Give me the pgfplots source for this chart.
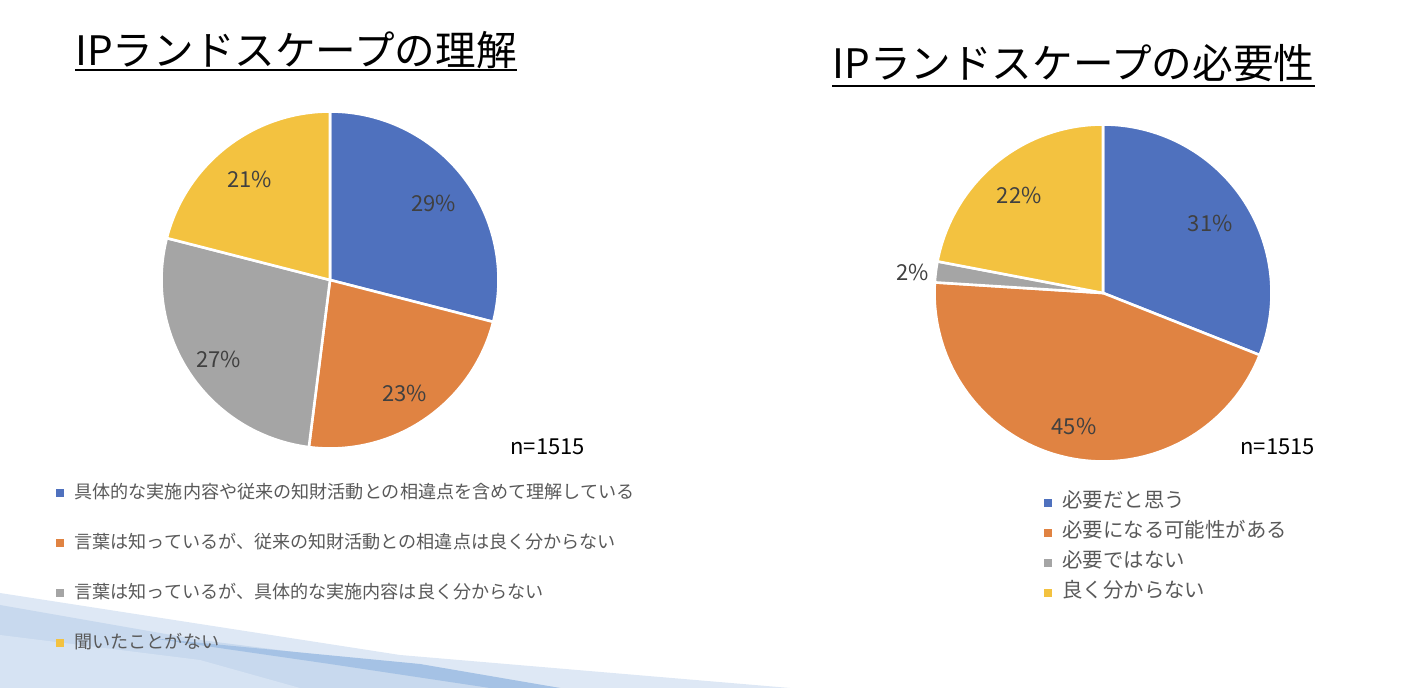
\documentclass[border=0pt]{standalone}
\usepackage{fontspec}
\setmainfont{Noto Sans CJK JP}
\usepackage{pgfplots}
\pgfplotsset{compat=1.18}

\definecolor{pblue}{RGB}{79,113,190}
\definecolor{porange}{RGB}{224,131,66}
\definecolor{pgray}{RGB}{165,165,165}
\definecolor{pyellow}{RGB}{243,194,64}
\definecolor{lbl}{RGB}{64,64,64}
\definecolor{leg}{RGB}{89,89,89}

% one slice: #1 start (percent), #2 value (percent), #3 colour, #4 label radius
\newcommand\pieslice[4]{%
  \pgfmathsetmacro\pa{90-3.6*(#1+#2)}%
  \pgfmathsetmacro\pb{90-3.6*(#1)}%
  \pgfmathsetmacro\pm{90-3.6*(#1+#2/2)}%
  \addplot[forget plot, draw=white, line width=1.3pt, fill=#3,
    domain=\pa:\pb, samples=90, variable=\t]
    ({cos(\t)},{sin(\t)}) -- (axis cs:0,0) -- cycle;
  \addplot[forget plot, draw=none, samples at={\pm}, variable=\t]
    ({#4*cos(\t)},{#4*sin(\t)})
    node[text=lbl, yshift=-1.8pt, font=\fontsize{11}{13}\selectfont] {#2\%};
}

\pgfplotsset{
  pie/.style={
    scale only axis, width=168.5pt, height=168.5pt,
    xmin=-1, xmax=1, ymin=-1, ymax=1,
    hide axis, clip=false, anchor=center,
    legend cell align=left,
    legend image code/.code={\fill[##1, draw=none] (0pt,-2.6pt) rectangle (4pt,1.4pt);},
    legend style={draw=none, fill=none, inner sep=0pt, text=leg,
      nodes={inner sep=1pt, text height=8pt, text depth=2pt},
      /tikz/every odd column/.append style={column sep=4pt}},
  }
}

\begin{document}
\begin{tikzpicture}
\path[use as bounding box] (0pt,0pt) rectangle (706pt,344pt);

% background decoration
\begin{scope}[x=0.5pt, y=0.5pt]
\fill[color={rgb,255:red,222;green,232;blue,245}] (0,95) -- (400,33) -- (790,0) -- (0,0) -- cycle;
\fill[color={rgb,255:red,200;green,217;blue,238}] (0,83) -- (200,48) -- (420,20) -- (560,0) -- (0,0) -- cycle;
\fill[color={rgb,255:red,214;green,227;blue,243}] (0,53) -- (200,28) -- (300,0) -- (0,0) -- cycle;
\fill[color={rgb,255:red,165;green,194;blue,229}] (150,50) -- (420,24) -- (560,0) -- (490,0) -- (330,24) -- cycle;
\end{scope}

% titles
\node[anchor=base west, inner sep=0pt, font=\fontsize{20.3}{24}\selectfont] (t1) at (37.5pt,311pt) {IPランドスケープの理解};
\draw[line width=1.1pt] ([yshift=-2.2pt]t1.base west) -- ([yshift=-2.2pt]t1.base east);
\node[anchor=base west, inner sep=0pt, font=\fontsize{20.3}{24}\selectfont] (t2) at (416pt,304.5pt) {IPランドスケープの必要性};
\draw[line width=1.1pt] ([yshift=-3.5pt]t2.base west) -- ([yshift=-3.5pt]t2.base east);

\node[anchor=base west, inner sep=0pt, font=\fontsize{11}{13}\selectfont] at (255pt,116.5pt) {n=1515};
\node[anchor=base west, inner sep=0pt, font=\fontsize{11}{13}\selectfont] at (620pt,116.5pt) {n=1515};

% left pie
\begin{axis}[pie, at={(165pt,204pt)},
  legend style={at={(axis description cs:-0.313,-0.093)}, anchor=north west,
    font=\fontsize{9.05}{11}\selectfont, row sep=13pt}]
  \addlegendimage{fill=pblue}
  \addlegendentry{具体的な実施内容や従来の知財活動との相違点を含めて理解している}
  \addlegendimage{fill=porange}
  \addlegendentry{言葉は知っているが、従来の知財活動との相違点は良く分からない}
  \addlegendimage{fill=pgray}
  \addlegendentry{言葉は知っているが、具体的な実施内容は良く分からない}
  \addlegendimage{fill=pyellow}
  \addlegendentry{聞いたことがない}
  \pieslice{0}{29}{pblue}{0.78}
  \pieslice{29}{23}{porange}{0.79}
  \pieslice{52}{27}{pgray}{0.80}
  \pieslice{79}{21}{pyellow}{0.78}
\end{axis}

% right pie
\begin{axis}[pie, at={(551.5pt,197.5pt)},
  legend style={at={(axis description cs:0.325,-0.082)}, anchor=north west,
    font=\fontsize{10.2}{12}\selectfont, row sep=3pt}]
  \addlegendimage{fill=pblue}
  \addlegendentry{必要だと思う}
  \addlegendimage{fill=porange}
  \addlegendentry{必要になる可能性がある}
  \addlegendimage{fill=pgray}
  \addlegendentry{必要ではない}
  \addlegendimage{fill=pyellow}
  \addlegendentry{良く分からない}
  \pieslice{0}{31}{pblue}{0.77}
  \pieslice{31}{45}{porange}{0.79}
  \pieslice{76}{2}{pgray}{1.14}
  \pieslice{78}{22}{pyellow}{0.78}
\end{axis}
\end{tikzpicture}
\end{document}
